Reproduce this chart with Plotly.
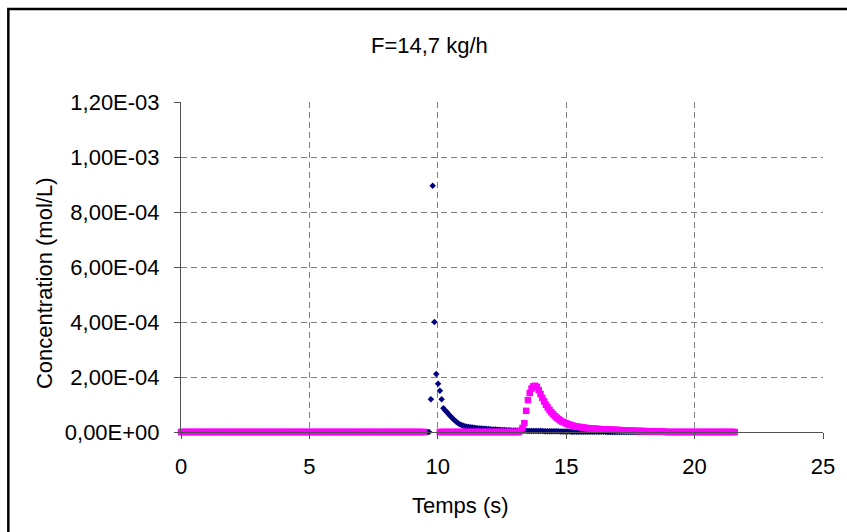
import plotly.graph_objects as go

# Acquisition: one sample every 0.07 s, 309 samples (0 to 21.56 s)
pas_s = 0.07
n_points = 309
temps = [round(pas_s * i, 2) for i in range(n_points)]

# Concentrations in units of 1e-4 mol/L
unite = 1e-4

# Series 1 (dark blue): sharp injection peak near 10 s
serie_1 = (
    [0.0] * 139
    + [1.19, 8.95, 4.00, 2.11, 1.75, 1.50, 1.19, 0.86, 0.78]
    + [0.72, 0.64, 0.57, 0.50, 0.44, 0.38, 0.33, 0.28, 0.25, 0.23,
       0.21, 0.19, 0.18, 0.17, 0.16, 0.15, 0.145, 0.14, 0.13, 0.125,
       0.12, 0.115, 0.11, 0.105, 0.10, 0.095, 0.09, 0.088, 0.085, 0.08,
       0.077, 0.074, 0.07, 0.067, 0.064, 0.06, 0.057, 0.054, 0.05]
    + [0.048, 0.046, 0.045, 0.044, 0.042, 0.041, 0.04, 0.039, 0.038, 0.037,
       0.036, 0.035, 0.034, 0.033, 0.032, 0.031, 0.03, 0.029, 0.028, 0.027,
       0.026, 0.025, 0.024, 0.023, 0.022, 0.021, 0.02, 0.02, 0.019, 0.018]
    + [0.01] * 20
)
serie_1 += [0.0] * (n_points - len(serie_1))

# Series 2 (magenta): delayed, broadened peak near 13.8 s
serie_2 = (
    [0.0] * 136
    + [None] * 8
    + [0.0] * 45
    + [0.05, 0.15, 0.32, 0.77, 1.16, 1.42, 1.58, 1.66, 1.68, 1.64,
       1.52, 1.38, 1.24, 1.11, 0.99, 0.89, 0.80, 0.72, 0.65, 0.58,
       0.52, 0.47, 0.42, 0.38, 0.35, 0.32, 0.29, 0.27, 0.25, 0.23,
       0.21, 0.20, 0.19, 0.18, 0.17, 0.16, 0.15, 0.14, 0.135, 0.13,
       0.125, 0.12, 0.115, 0.11, 0.105, 0.10, 0.095, 0.09, 0.088, 0.085,
       0.082, 0.08, 0.078, 0.075, 0.072, 0.07, 0.067, 0.064, 0.06, 0.055]
    + [0.05, 0.048, 0.046, 0.044, 0.042, 0.04, 0.038, 0.036, 0.034, 0.032,
       0.03, 0.028, 0.026, 0.024, 0.022, 0.02, 0.018, 0.016, 0.014, 0.012,
       0.01]
)
serie_2 += [0.0] * (n_points - len(serie_2))

x_ticks = [0, 5, 10, 15, 20, 25]
y_ticks = [0, 2e-4, 4e-4, 6e-4, 8e-4, 1e-3, 1.2e-3]
y_tick_labels = ["0,00E+00", "2,00E-04", "4,00E-04", "6,00E-04",
                 "8,00E-04", "1,00E-03", "1,20E-03"]


def to_mol(values):
    return [None if v is None else v * unite for v in values]


FONT = "Liberation Sans, Arial, sans-serif"
AXIS_COLOR = "#505050"
GRID_COLOR = "#808080"

fig = go.Figure()
fig.add_trace(go.Scatter(
    x=temps, y=to_mol(serie_1), mode="markers",
    marker=dict(symbol="diamond", size=5, color="#000080",
                line=dict(width=0)),
    cliponaxis=False,
))
fig.add_trace(go.Scatter(
    x=temps, y=to_mol(serie_2), mode="markers",
    marker=dict(symbol="square", size=6.5, color="#FF00FF",
                line=dict(width=0)),
    cliponaxis=False,
))

axis_common = dict(
    showline=True, linecolor=AXIS_COLOR, linewidth=1,
    ticks="outside", ticklen=6, tickcolor=AXIS_COLOR, tickwidth=1,
    showgrid=True, gridcolor=GRID_COLOR, gridwidth=1, griddash="6px,4px",
    zeroline=False, tickfont=dict(family=FONT, size=22, color="black"),
)

fig.update_xaxes(range=[0, 25], tickmode="array", tickvals=x_ticks,
                 ticklabelstandoff=9, **axis_common)
fig.update_yaxes(range=[0, 1.2e-3], tickmode="array", tickvals=y_ticks,
                 ticktext=y_tick_labels, ticklabelstandoff=10, **axis_common)

L, R, T, B = 181, 19, 102, 100
W, H = 847, 532
pw, ph = W - L - R, H - T - B


def px(x):
    return (x - L) / pw


def py(y):
    return (H - B - y) / ph


fig.update_layout(
    width=W, height=H,
    margin=dict(l=L, r=R, t=T, b=B),
    paper_bgcolor="white", plot_bgcolor="white",
    showlegend=False,
    font=dict(family=FONT, size=22, color="black"),
    annotations=[
        dict(text="F=14,7 kg/h", xref="paper", yref="paper",
             x=px(431), y=py(45), xanchor="center", yanchor="middle",
             showarrow=False, font=dict(family=FONT, size=22)),
        dict(text="Temps (s)", xref="paper", yref="paper",
             x=px(463), y=py(505), xanchor="center", yanchor="middle",
             showarrow=False, font=dict(family=FONT, size=22)),
        dict(text="Concentration (mol/L)", xref="paper", yref="paper",
             x=px(43), y=py(283), xanchor="center", yanchor="middle",
             textangle=-90, showarrow=False, font=dict(family=FONT, size=22)),
    ],
    shapes=[
        # outer chart frame
        dict(type="rect", xref="paper", yref="paper",
             x0=px(7), x1=px(860), y0=py(545), y1=py(9),
             line=dict(color="black", width=2.5), fillcolor="rgba(0,0,0,0)",
             layer="below"),
    ],
)

fig.write_html("out.html")
